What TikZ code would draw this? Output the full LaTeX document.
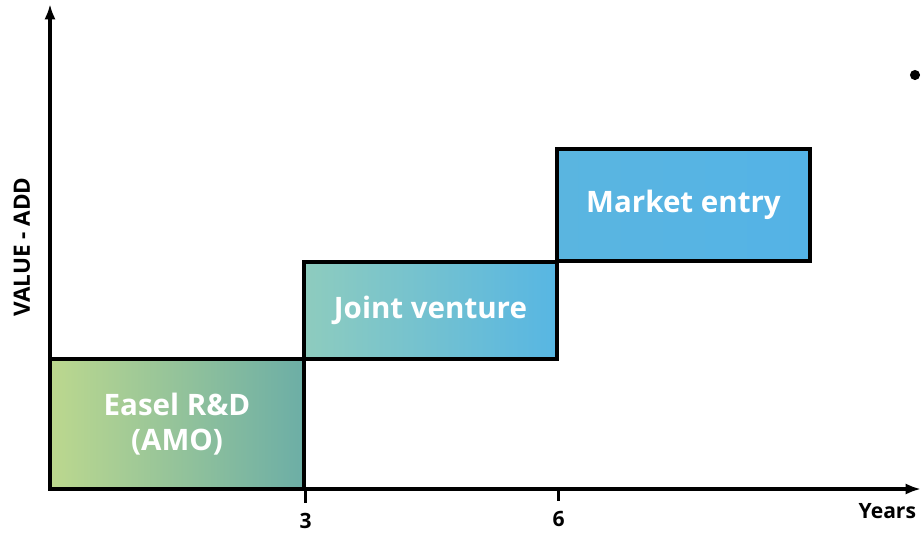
\documentclass[tikz,border=0pt]{standalone}
\usepackage{fontspec}
\setmainfont{Open Sans}
\usepackage{xcolor}
\usetikzlibrary{arrows.meta}
\definecolor{easelL}{HTML}{BCD88E}
\definecolor{easelR}{HTML}{6CAEA6}
\definecolor{jointL}{HTML}{8ECCBE}
\definecolor{jointR}{HTML}{57B6E3}
\definecolor{marketL}{HTML}{5AB5E0}
\definecolor{marketR}{HTML}{54B3E6}
\tikzset{
    axis/.style={line width=2.2pt, -{Latex[length=11pt,width=8pt]}},
    phase/.style={draw, line width=2.2pt, inner sep=0pt, font=\fontsize{21}{25}\selectfont\bfseries, text=white, align=center},
    easel/.style={phase, left color=easelL, right color=easelR, minimum width=6.35cm, minimum height=3.25cm},
    joint/.style={phase, left color=jointL, right color=jointR, minimum width=6.325cm, minimum height=2.425cm},
    market/.style={phase, left color=marketL, right color=marketR, minimum width=6.325cm, minimum height=2.8cm},
    tick/.style={line width=2.2pt},
    ticklabel/.style={font=\fontsize{15}{17}\selectfont\bfseries}
}
\begin{document}
\begin{tikzpicture}[x=0.025cm, y=-0.025cm]
    \useasboundingbox (0,0) rectangle (921,535);

    % Axes
    \coordinate (origin) at (50,489);
    \coordinate (ytop) at (50,4);
    \coordinate (xend) at (921,489);
    \draw[axis] (origin) -- (ytop);
    \draw[axis] (origin) -- (xend);
    \node[rotate=90, font=\fontsize{16}{18}\selectfont\bfseries] (valueadd) at (22,247) {VALUE - ADD};
    \node[ticklabel, anchor=east] (years) at (921,511) {Years};

    % Phases
    \node[easel] (easel) at (177,424) {Easel R\&D\\(AMO)};
    \node[joint] (joint) at (430.5,310.5) {Joint venture};
    \node[market] (market) at (683.5,205) {Market entry};

    % Ticks
    \draw[tick] (easel.south east) -- ++(0,12) coordinate (tick3);
    \draw[tick] (joint.south east |- origin) -- ++(0,12) coordinate (tick6);
    \node[ticklabel, below=4pt] (three) at (tick3) {3};
    \node[ticklabel, below=4pt] (six) at (tick6) {6};

    % Bullet
    \fill (915,75) circle[radius=3.6pt];
\end{tikzpicture}
\end{document}
